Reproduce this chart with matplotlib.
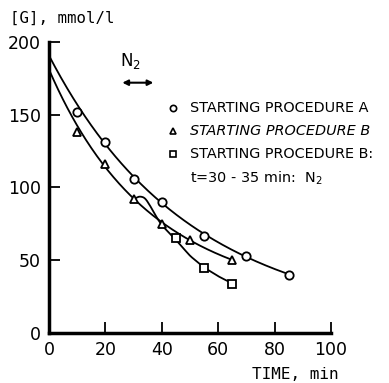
import numpy as np
import matplotlib
matplotlib.use("Agg")
import matplotlib.pyplot as plt

# Data
t_A = [10, 20, 30, 40, 55, 70, 85]
g_A = [152, 131, 106, 90, 67, 53, 40]
t_B = [10, 20, 30, 40, 50, 65]
g_B = [138, 116, 92, 75, 64, 50]
t_BN = [45, 55, 65]
g_BN = [65, 45, 34]

# Fitted-curve knots
fit_A_t = [0, 10, 20, 30, 40, 55, 70, 85]
fit_A_g = [195, 152, 130, 107, 90, 68, 53, 40]
fit_B_t = [0, 10, 20, 30, 40, 50, 65]
fit_B_g = [184, 138, 115, 93, 76, 64, 50]
fit_BN_t = [30, 32, 34, 36, 38, 40, 45, 50, 55, 60, 65]
fit_BN_g = [92, 94, 93, 87, 80, 74, 64, 53, 45, 39, 34]

xticks = [0, 20, 40, 60, 80, 100]
yticks = [0, 50, 100, 150, 200]

fig = plt.figure(figsize=(3.89, 3.83), dpi=100)
ax = fig.add_axes([0.126, 0.1305, 0.725, 0.76])

def smooth(tk, gk, deg=2, n=200):
    c = np.polyfit(tk, np.log(gk), deg)
    tt = np.linspace(min(tk), max(tk), n)
    return tt, np.exp(np.polyval(c, tt))

tt, gg = smooth(fit_A_t, fit_A_g, 2)
ax.plot(tt, gg, color="black", lw=1.3)
tt, gg = smooth(fit_B_t, fit_B_g, 2)
ax.plot(tt, gg, color="black", lw=1.3)
tt = np.linspace(fit_BN_t[0], fit_BN_t[-1], 300)
gg = np.interp(tt, fit_BN_t, fit_BN_g)
k = np.ones(15) / 15
gg_s = np.convolve(np.pad(gg, 7, mode="edge"), k, mode="valid")
ax.plot(tt, gg_s, color="black", lw=1.3)

ms = 6
ax.plot(t_A, g_A, "o", mfc="white", mec="black", mew=1.3, ms=ms)
ax.plot(t_B, g_B, "^", mfc="white", mec="black", mew=1.3, ms=ms)
ax.plot(t_BN, g_BN, "s", mfc="white", mec="black", mew=1.3, ms=ms)

ax.set_xlim(0, 100)
ax.set_ylim(0, 200)
ax.set_xticks(xticks)
ax.set_yticks(yticks)
ax.tick_params(direction="in", length=8, width=1.3, labelsize=12.5, pad=6)
for s in ["top", "right"]:
    ax.spines[s].set_visible(False)
ax.spines["left"].set_linewidth(2.5)
ax.spines["bottom"].set_linewidth(2.5)

mono = "DejaVu Sans Mono"
fig.text(0.025, 0.953, "[G], mmol/l", fontsize=11.3, family=mono, ha="left", va="center")
fig.text(0.87, 0.022, "TIME, min", fontsize=11.5, family=mono, ha="right", va="center")

ax.text(29, 187, "N$_2$", fontsize=12, ha="center", va="center")
ax.annotate("", xy=(26, 172), xytext=(37, 172),
            arrowprops=dict(arrowstyle="<|-|>", color="black", lw=1.5,
                            mutation_scale=8, shrinkA=0, shrinkB=0))

lx_m = 0.445
lx_t = 0.488
rows = [(0.718, "o", "STARTING PROCEDURE A", "normal"),
        (0.658, "^", "STARTING PROCEDURE B", "italic"),
        (0.598, "s", "STARTING PROCEDURE B:", "normal")]
for y, m, txt, st in rows:
    fig.lines.append(plt.Line2D([lx_m], [y], marker=m, ms=4.5, mfc="white",
                                mec="black", mew=1.2, transform=fig.transFigure))
    fig.text(lx_t, y, txt, fontsize=10.4, style=st, ha="left", va="center")
fig.text(lx_t, 0.535, "t=30 - 35 min:  N$_2$", fontsize=10.4, ha="left", va="center")

fig.savefig("out.png", dpi=100)
